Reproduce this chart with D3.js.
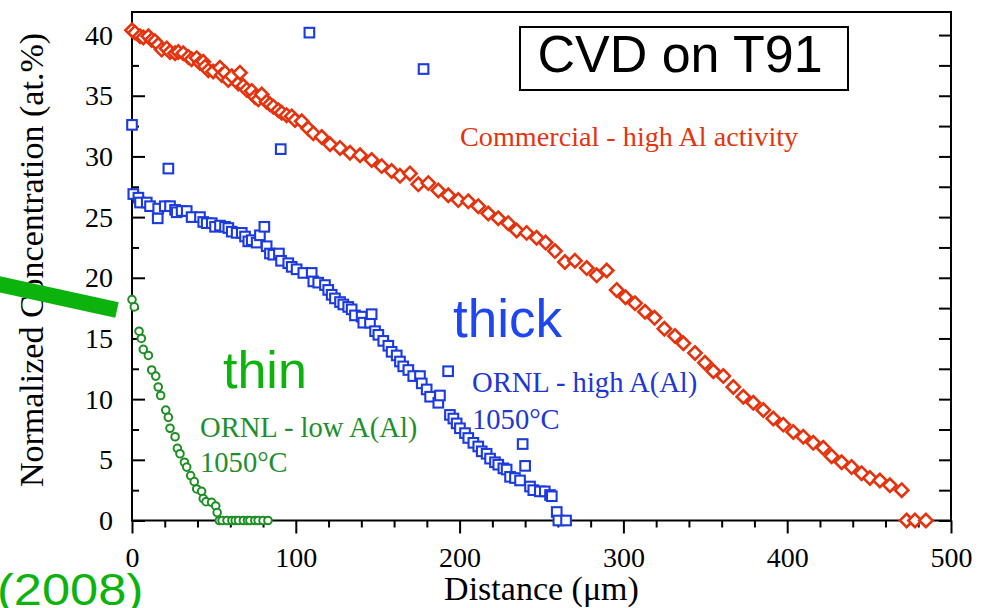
<!DOCTYPE html>
<html>
<head>
<meta charset="utf-8">
<script src="https://cdn.jsdelivr.net/npm/d3@7"></script>
<style>
  html, body { margin: 0; padding: 0; background: #fff; }
  svg { display: block; }
</style>
</head>
<body>
<svg id="chart" width="982" height="608"></svg>
<script>
// ---- data: Al concentration profiles (distance in µm, concentration in at.%) ----
const xTickValues = [0, 100, 200, 300, 400, 500];
const yTickValues = [0, 5, 10, 15, 20, 25, 30, 35, 40];

// Commercial CVD coating, high Al activity
const commercial = [
  [0,40.4],[1.8,40.2],[4.9,39.9],[6.9,39.8],[10,39.9],[12,39.6],[14,39.5],[16,39.2],[18.1,38.8],[21.2,38.9],
  [23.2,38.6],[26.3,38.5],[28.3,38.6],[31.3,38.5],[34.4,38.2],[36.4,38.0],[39.5,38.1],[41.5,37.7],[43.5,37.8],[44.6,37.4],
  [46.6,37.1],[49.6,37.0],[53.7,37.3],[54.8,36.7],[56.8,36.9],[58.8,36.3],[60.9,36.6],[64.9,36.0],[65.9,36.9],[68,35.8],
  [70,35.5],[73.1,35.4],[75.1,34.9],[77.1,34.7],[79.2,35.1],[82.2,34.5],[84.2,34.3],[86.3,34.1],[89.3,33.8],[91.4,33.6],
  [94.4,33.4],[97.5,33.3],[99.5,33.0],[103.6,32.9],[107.6,32.3],[110.7,31.9],[115.8,31.6],[120.9,31.0],[127,30.7],[133.1,30.3],
  [139.2,30.1],[146.3,29.7],[152.4,29.2],[158.5,28.8],[163.6,28.4],[169.7,28.6],[174.8,27.7],[180.9,27.8],[187,27.2],[193.1,26.8],
  [199.2,26.4],[205.3,26.3],[211.4,25.9],[217.5,25.3],[223.6,24.9],[229.7,24.5],[234.8,23.9],[240.9,23.7],[247,23.3],[252.5,22.9],
  [258.2,22.2],[264.3,21.3],[270.4,21.4],[277.6,20.8],[283.7,20.2],[289.8,20.6],[295.9,19.0],[301.3,18.4],[307.1,17.9],[313.2,17.2],
  [319,16.7],[325,15.8],[331.5,15.2],[336.6,14.6],[343.7,13.8],[349.8,13.0],[354.9,12.3],[361,11.9],[367.1,11.0],[373.2,10.2],
  [379.3,9.7],[385.4,9.1],[391.5,8.4],[397.6,7.9],[403.7,7.3],[409.8,6.9],[415.9,6.4],[422,6.0],[427.1,5.3],[433.2,4.8],
  [439.3,4.4],[445.4,3.9],[450.5,3.5],[456.6,3.3],[462.7,2.9],[469.9,2.5],[472.9,0],[478,0],[484.7,0]
];

// ORNL coating, high A(Al), 1050°C
const ornlHigh = [
  [0.8,26.9],[3.9,26.6],[4.9,26.2],[9,26.2],[11,25.9],[15.7,24.9],[16,25.7],[20,25.9],[23.2,25.9],[26.3,25.6],
  [27.3,25.4],[30.3,25.5],[33.4,25.5],[36.4,25.0],[41.5,25.0],[43.5,24.6],[45.6,24.5],[48.7,24.5],[50.7,24.2],[53.7,24.3],
  [56.8,24.2],[58.8,24.1],[60.9,23.8],[63.9,23.7],[67,23.7],[69,23.4],[71,23.0],[73.1,23.1],[76.1,22.9],[78.1,23.5],
  [80.8,24.2],[82.2,22.6],[84.2,22.0],[86.3,21.9],[89.7,22.0],[91,21.4],[95.4,21.2],[97.5,20.9],[100.5,20.7],[104.6,20.4],
  [109.7,20.4],[110.7,19.7],[113.7,19.6],[117.8,19.4],[119.8,19.0],[121.9,18.6],[123.9,18.3],[127,18.0],[129,17.8],[132,17.6],
  [134.1,17.4],[136.1,16.9],[140.2,16.8],[141.2,16.3],[145.3,16.3],[146.3,17.0],[148.4,15.6],[150.4,15.3],[153.4,14.8],[156.5,14.4],
  [158.5,13.9],[161.6,13.6],[163.6,13.1],[165.6,12.7],[168.7,12.4],[171.7,11.9],[175.8,11.9],[176.9,11.3],[179.9,10.8],[182,10.2],
  [187,9.7],[188,10.3],[194.1,8.7],[196.2,8.4],[198.2,8.0],[200.2,7.6],[203.3,7.2],[205.3,6.8],[208.4,6.4],[211.4,6.1],
  [213.5,5.7],[216.5,5.5],[218.6,5.1],[221.6,4.8],[223.6,4.6],[226.7,4.3],[228.7,4.2],[230.8,3.6],[233.8,3.5],[236.9,3.3],
  [243,2.8],[245,2.5],[249,2.4],[252,2.4],[255.2,2.1],[256.3,2.0],[259.3,0.7],[260.3,0],[265,0]
];
// isolated readings of the same ORNL high-A(Al) profile
const ornlHighStray = [
  [0,32.6],[22.2,29.0],[90.8,30.6],[108.3,40.2],[178,37.2],[193,12.3],[238.5,6.3],[240,4.5]
];

// ORNL coating, low A(Al), 1050°C
const ornlLow = [
  [0,18.2],[1.4,17.6],[4.3,15.6],[5.7,15.0],[6.9,14.1],[10,13.6],[12,12.4],[14.5,11.9],[16,11.0],[17.5,10.3],
  [20.6,9.1],[22.2,8.5],[23.2,7.6],[26.3,6.9],[27.7,5.95],[29.3,5.5],[32,4.8],[33.4,4.4],[35.8,3.7],[38,3.2],
  [39.5,2.6],[42.5,2.4],[43.5,1.8],[45.2,1.55],[48.6,1.5],[51.1,1.2],[52,0.65],[53.3,0],[55,0],[58,0],
  [61,0],[63,0],[65,0],[68,0],[70.5,0],[72,0],[75,0],[77,0],[80,0],[83,0]
];

// ---- layout ----
const svg = d3.select("#chart");
const serif = "'Liberation Serif', 'Times New Roman', Times, serif";
const sans = "'Liberation Sans', Arial, Helvetica, sans-serif";

const x = d3.scaleLinear().domain([0, 500]).range([132, 951]);
const y = d3.scaleLinear().domain([0, 41.9]).range([520.5, 12]);

const RED = "#e5330e", BLUE = "#1c3bde", GREEN = "#1e8f24", BRIGHT_GREEN = "#0db30d";

const xMinor = d3.range(0, 501, 20).filter(v => v % 100 !== 0);
const yMinor = d3.range(0, 41, 2.5).filter(v => v % 5 !== 0);

function styleAxis(g) {
  g.select(".domain").remove();
  g.selectAll(".tick line").attr("stroke", "#000").attr("stroke-width", 2);
  g.selectAll(".tick text").attr("fill", "#000");
  g.attr("font-family", serif).attr("font-size", 28);
}

// left axis: ticks point into the plot
svg.append("g").attr("transform", `translate(${x(0)},0)`)
  .call(d3.axisLeft(y).tickValues(yMinor).tickSizeInner(-7).tickSizeOuter(0).tickFormat(""))
  .call(styleAxis);
svg.append("g").attr("transform", `translate(${x(0)},0)`)
  .call(d3.axisLeft(y).tickValues(yTickValues).tickSizeInner(-13).tickSizeOuter(0).tickPadding(19).tickFormat(d3.format("d")))
  .call(styleAxis);

// right axis: inward ticks, no labels
svg.append("g").attr("transform", `translate(${x(500)},0)`)
  .call(d3.axisRight(y).tickValues(yTickValues.concat(yMinor)).tickSizeInner(-12).tickSizeOuter(0).tickFormat(""))
  .call(styleAxis);

// bottom axis: outward ticks
svg.append("g").attr("transform", `translate(0,${y(0)})`)
  .call(d3.axisBottom(x).tickValues(xMinor).tickSizeInner(7).tickSizeOuter(0).tickFormat(""))
  .call(styleAxis);
svg.append("g").attr("transform", `translate(0,${y(0)})`)
  .call(d3.axisBottom(x).tickValues(xTickValues).tickSizeInner(13).tickSizeOuter(0).tickPadding(14).tickFormat(d3.format("d")))
  .call(styleAxis);

// plot frame
svg.append("rect")
  .attr("x", x(0)).attr("y", y.range()[1])
  .attr("width", x(500) - x(0)).attr("height", y(0) - y.range()[1])
  .attr("fill", "none").attr("stroke", "#000").attr("stroke-width", 2);

// axis titles
svg.append("text")
  .attr("x", (x(0) + x(500)) / 2).attr("y", 600)
  .attr("text-anchor", "middle")
  .attr("font-family", serif).attr("font-size", 34)
  .text("Distance (\u03bcm)");

svg.append("text")
  .attr("transform", "translate(43,260) rotate(-90)")
  .attr("text-anchor", "middle")
  .attr("font-family", serif).attr("font-size", 34)
  .text("Normalized Concentration (at.%)");

// ---- markers ----
const marks = svg.append("g");

// low A(Al): open circles
marks.append("g").selectAll("circle").data(ornlLow).join("circle")
  .attr("cx", d => x(d[0])).attr("cy", d => y(d[1])).attr("r", 3.8)
  .attr("fill", "#fff").attr("stroke", GREEN).attr("stroke-width", 2);

// high A(Al): open squares
const sq = 9.6;
marks.append("g").selectAll("rect").data(ornlHigh.concat(ornlHighStray)).join("rect")
  .attr("x", d => x(d[0]) - sq / 2).attr("y", d => y(d[1]) - sq / 2)
  .attr("width", sq).attr("height", sq)
  .attr("fill", "#fff").attr("stroke", BLUE).attr("stroke-width", 2.1);

// commercial: open diamonds
const diamond = d3.symbol(d3.symbolSquare, 9.4 * 9.4);
marks.append("g").selectAll("path").data(commercial).join("path")
  .attr("d", diamond)
  .attr("transform", d => `translate(${x(d[0])},${y(d[1])}) rotate(45)`)
  .attr("fill", "#fff").attr("stroke", RED).attr("stroke-width", 2.6);

// ---- annotations ----
svg.append("text")
  .attr("x", 460).attr("y", 146)
  .attr("font-family", serif).attr("font-size", 28.2).attr("fill", RED)
  .text("Commercial - high Al activity");

svg.append("text")
  .attr("x", 453).attr("y", 337)
  .attr("font-family", sans).attr("font-size", 53).attr("fill", "#1e47f2")
  .text("thick");

const hiLbl = svg.append("text")
  .attr("font-family", serif).attr("font-size", 28.6).attr("fill", "#2236d6");
hiLbl.append("tspan").attr("x", 472).attr("y", 392).text("ORNL - high A(Al)");
hiLbl.append("tspan").attr("x", 472).attr("y", 429).text("1050\u00b0C");

svg.append("text")
  .attr("x", 223).attr("y", 388)
  .attr("font-family", sans).attr("font-size", 52).attr("fill", BRIGHT_GREEN)
  .text("thin");

const loLbl = svg.append("text")
  .attr("font-family", serif).attr("font-size", 28.6).attr("fill", "#1f8f2e");
loLbl.append("tspan").attr("x", 200).attr("y", 437).text("ORNL - low A(Al)");
loLbl.append("tspan").attr("x", 200).attr("y", 472).text("1050\u00b0C");

// title box
svg.append("rect")
  .attr("x", 520).attr("y", 27).attr("width", 328).attr("height", 63)
  .attr("fill", "#fff").attr("stroke", "#000").attr("stroke-width", 2);
svg.append("text")
  .attr("x", 680).attr("y", 72)
  .attr("text-anchor", "middle")
  .attr("font-family", sans).attr("font-size", 52).attr("fill", "#000")
  .text("CVD on T91");

// green pointer bar and year
svg.append("line")
  .attr("x1", -6).attr("y1", 283).attr("x2", 117).attr("y2", 310)
  .attr("stroke", BRIGHT_GREEN).attr("stroke-width", 16).attr("stroke-linecap", "butt");

svg.append("text")
  .attr("transform", "translate(-3,605) scale(1.15,1)")
  .attr("font-family", sans).attr("font-size", 44).attr("fill", BRIGHT_GREEN)
  .text("(2008)");
</script>
</body>
</html>
